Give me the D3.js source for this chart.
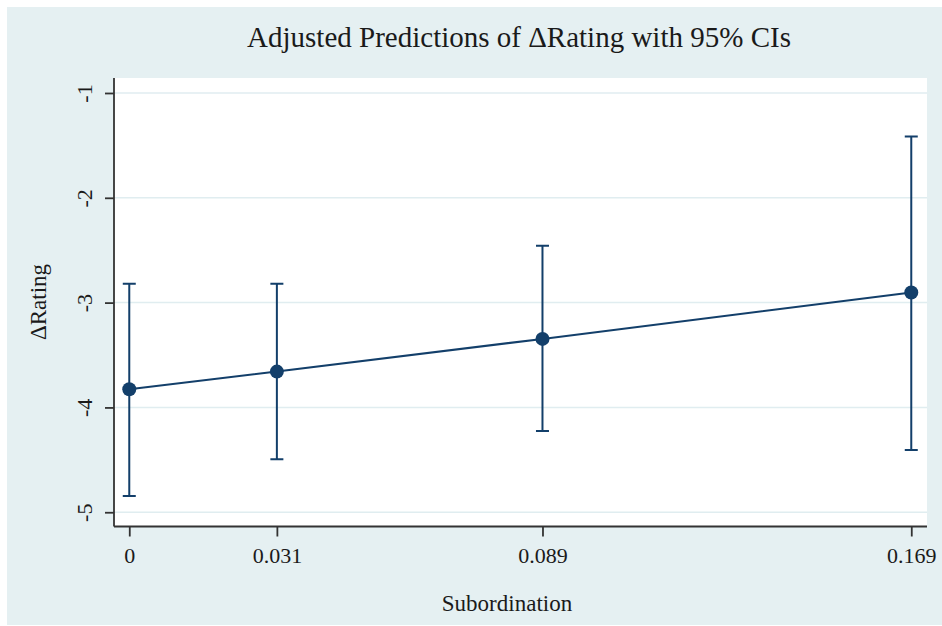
<!DOCTYPE html>
<html>
<head>
<meta charset="utf-8">
<script src="https://cdn.jsdelivr.net/npm/d3@7"></script>
<style>
  html, body { margin: 0; padding: 0; background: #ffffff; }
  svg { display: block; }
  svg text { font-family: "Liberation Serif", "Times New Roman", Tinos, "DejaVu Serif", serif !important; fill: #1a1a1a; }
</style>
</head>
<body>
<svg id="chart" width="942" height="626"></svg>
<script>
// ---- data ----
const categories = ["0", "0.031", "0.089", "0.169"];        // x tick labels
const xValues    = [0, 0.0319, 0.0893, 0.169];                // subordination positions
const predicted  = [-3.826, -3.658, -3.346, -2.903];          // adjusted predictions
const ciLower    = [-4.844, -4.494, -4.224, -4.405];
const ciUpper    = [-2.820, -2.820, -2.458, -1.414];
const yTicks     = [-1, -2, -3, -4, -5];
const yTickLabels = ["-1", "-2", "-3", "-4", "-5"];

const titleText = "Adjusted Predictions of \u0394Rating with 95% CIs";
const xTitle = "Subordination";
const yTitle = "\u0394Rating";

// ---- layout ----
const W = 942, H = 626;
const plot = { left: 114, right: 927, top: 78, bottom: 526.5 };
const navy = "#133f6a";

const svg = d3.select("#chart");

svg.append("rect").attr("x", 7).attr("y", 7).attr("width", W - 7).attr("height", H - 8)
  .attr("fill", "#e5f0f2");
svg.append("rect").attr("x", plot.left).attr("y", plot.top)
  .attr("width", plot.right - plot.left).attr("height", plot.bottom - plot.top)
  .attr("fill", "#ffffff");

const x = d3.scaleLinear().domain([-0.0033, 0.1724]).range([plot.left, plot.right]);
const y = d3.scaleLinear().domain([-5.136, -0.857]).range([plot.bottom, plot.top]);

svg.append("g").selectAll("line").data(yTicks).join("line")
  .attr("x1", plot.left).attr("x2", plot.right)
  .attr("y1", d => y(d)).attr("y2", d => y(d))
  .attr("stroke", "#e0edf0").attr("stroke-width", 1.5);

const yAxis = d3.axisLeft(y).tickValues(yTicks).tickSize(9)
  .tickFormat((d, i) => yTickLabels[i]);
const gy = svg.append("g").attr("transform", `translate(${plot.left},0)`).call(yAxis);
gy.attr("font-family", null);
gy.select(".domain").attr("d", `M0,${plot.top}V${plot.bottom}`).attr("stroke", "#333").attr("stroke-width", 1.8);
gy.selectAll(".tick line").attr("stroke", "#333").attr("stroke-width", 1.8);
gy.selectAll(".tick text")
  .attr("transform", "rotate(-90)")
  .attr("x", 0).attr("y", -22).attr("dy", "0")
  .attr("text-anchor", "middle")
  .style("font-size", "22px");

const xAxis = d3.axisBottom(x).tickValues(xValues).tickSize(10)
  .tickFormat((d, i) => categories[i]);
const gx = svg.append("g").attr("transform", `translate(0,${plot.bottom})`).call(xAxis);
gx.attr("font-family", null);
gx.select(".domain").attr("d", `M${plot.left},0H${plot.right}`).attr("stroke", "#333").attr("stroke-width", 1.8);
gx.selectAll(".tick line").attr("stroke", "#333").attr("stroke-width", 1.8);
gx.selectAll(".tick text")
  .attr("y", 36).attr("dy", "0")
  .style("font-size", "22px");

const rows = xValues.map((v, i) => ({ x: v, p: predicted[i], lo: ciLower[i], hi: ciUpper[i] }));

const ci = svg.append("g").attr("stroke", navy).attr("stroke-width", 2).attr("fill", "none");
ci.selectAll("path").data(rows).join("path")
  .attr("d", d => {
    const cx = x(d.x), c = 6.5;
    return `M${cx - c},${y(d.hi)}H${cx + c}M${cx},${y(d.hi)}V${y(d.lo)}M${cx - c},${y(d.lo)}H${cx + c}`;
  });

svg.append("path").datum(rows)
  .attr("d", d3.line().x(d => x(d.x)).y(d => y(d.p)))
  .attr("fill", "none").attr("stroke", navy).attr("stroke-width", 2);

svg.append("g").selectAll("circle").data(rows).join("circle")
  .attr("cx", d => x(d.x)).attr("cy", d => y(d.p)).attr("r", 7)
  .attr("fill", navy);

svg.append("text").attr("x", 519).attr("y", 47).attr("text-anchor", "middle")
  .style("font-size", "29px").text(titleText);
svg.append("text").attr("x", 507).attr("y", 611).attr("text-anchor", "middle")
  .style("font-size", "23px").text(xTitle);
svg.append("text").attr("transform", `translate(46,302) rotate(-90)`).attr("text-anchor", "middle")
  .style("font-size", "23px").text(yTitle);
</script>
</body>
</html>
